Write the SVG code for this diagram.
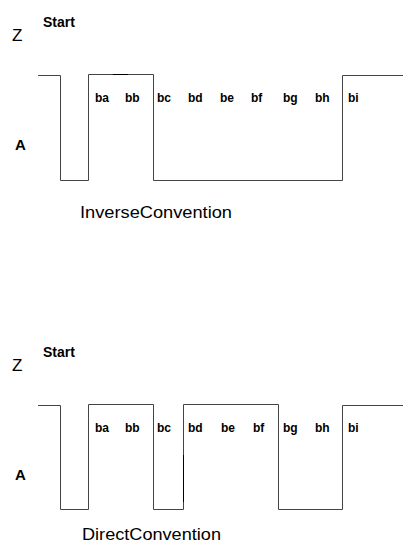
<svg xmlns="http://www.w3.org/2000/svg" width="404" height="542" viewBox="0 0 404 542">
<style>
.w{fill:none;stroke:#444;stroke-width:1}
.mk{stroke:#000;stroke-width:1}
.t{font-family:"Liberation Sans",Arial,sans-serif;fill:#000}
.lb{font-size:12px;font-weight:bold}
.st{font-size:14px;font-weight:bold}
.z{font-size:17px}
.a{font-size:15px;font-weight:bold}
.cv{font-size:16px}
</style>
<rect width="404" height="542" fill="#fff"/>
<g id="inverse">
<g id="inv-labels">
<text class="t z" x="12" y="41">Z</text>
<text class="t st" x="43" y="27">Start</text>
<text class="t a" x="15" y="150">A</text>
<text class="t cv" x="80" y="218" textLength="152" lengthAdjust="spacingAndGlyphs">InverseConvention</text>
</g>
<g id="inv-bits" class="t lb">
<text x="95" y="102">ba</text><text x="125" y="102">bb</text><text x="157" y="102">bc</text>
<text x="188" y="102">bd</text><text x="220" y="102">be</text><text x="251" y="102">bf</text>
<text x="283" y="102">bg</text><text x="315" y="102">bh</text><text x="348" y="102">bi</text>
</g>
</g>
<g id="direct">
<g id="dir-labels">
<text class="t z" x="12" y="371">Z</text>
<text class="t st" x="43" y="357">Start</text>
<text class="t a" x="15" y="480">A</text>
<text class="t cv" x="82" y="540" textLength="139" lengthAdjust="spacingAndGlyphs">DirectConvention</text>
</g>
<g id="dir-bits" class="t lb">
<text x="95" y="432">ba</text><text x="125" y="432">bb</text><text x="157" y="432">bc</text>
<text x="188" y="432">bd</text><text x="221" y="432">be</text><text x="253" y="432">bf</text>
<text x="283" y="432">bg</text><text x="315" y="432">bh</text><text x="348" y="432">bi</text>
</g>
</g>
<g id="connectors">
<polyline class="w" points="38,75.5 60.5,75.5 60.5,180.5 88.5,180.5 88.5,74.5 153.5,74.5 153.5,180.5 342.5,180.5 342.5,75.5 403,75.5"/>
<line class="mk" x1="113" y1="74.5" x2="128" y2="74.5"/>
<polyline class="w" points="38,405.5 60.5,405.5 60.5,509.5 88.5,509.5 88.5,404.5 153.5,404.5 153.5,509.5 183.5,509.5 183.5,404.5 278.5,404.5 278.5,509.5 342.5,509.5 342.5,405.5 403,405.5"/>
<line class="mk" x1="183.5" y1="455" x2="183.5" y2="502"/>
</g>
</svg>
